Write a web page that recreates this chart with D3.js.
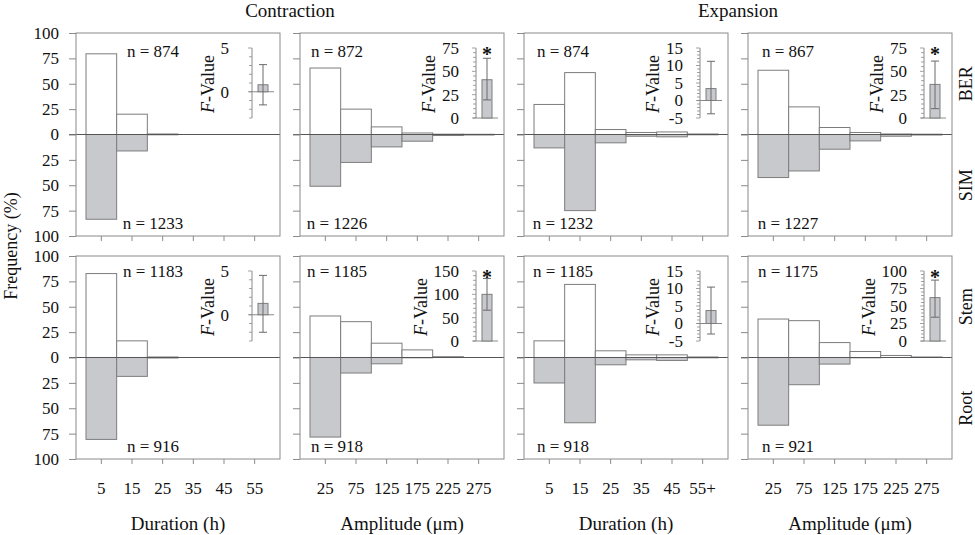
<!DOCTYPE html>
<html><head><meta charset="utf-8">
<script src="https://cdn.jsdelivr.net/npm/d3@7"></script>
<style>
body{margin:0;background:#fff}
svg{display:block}
text{font-family:"Liberation Serif","Times New Roman",serif;fill:#111}
</style>
</head><body>
<svg id="chart" width="975" height="535"></svg>
<script>
// ---------- data ----------
const durationBins = ["5","15","25","35","45","55"];
const durationBinsExp = ["5","15","25","35","45","55+"];
const amplitudeBins = ["25","75","125","175","225","275"];
const freqTicks = [-100,-75,-50,-25,0,25,50,75,100];

const columnTitles = ["Contraction","Expansion"];
const axisTitles = ["Duration (h)","Amplitude (μm)","Duration (h)","Amplitude (μm)"];
const rowUpper = ["BER","Stem"];
const rowLower = ["SIM","Root"];

// frequency (%) — top row: BER (up) vs SIM (down)
const contrDurBER = [79.5, 20, 0.5, 0, 0, 0];
const contrDurSIM = [83.5, 16.2, 0.3, 0, 0, 0];
const contrAmpBER = [65.5, 25, 7.5, 1.5, 0.3, 0.2];
const contrAmpSIM = [51, 27.5, 12.2, 6.6, 1, 0.5];
const expDurBER = [29.6, 61, 4.9, 2, 2.5, 0.5];
const expDurSIM = [13.2, 75, 8.2, 1.7, 2.3, 0.3];
const expAmpBER = [63.3, 27.2, 6.9, 2, 0.5, 0.3];
const expAmpSIM = [42.4, 35.9, 14.5, 6.3, 1.7, 0.5];
// bottom row: Stem (up) vs Root (down)
const contrDurStem = [82.7, 16.4, 0.5, 0, 0, 0];
const contrDurRoot = [80.7, 18.6, 0.5, 0, 0, 0];
const contrAmpStem = [40.9, 35.3, 14.1, 7.5, 0.8, 0];
const contrAmpRoot = [78.4, 15.3, 6.2, 0.3, 0, 0];
const expDurStem = [16.4, 72, 6.6, 2.6, 2.6, 0.5];
const expDurRoot = [25.1, 64.3, 7.2, 2.3, 2.9, 0.3];
const expAmpStem = [37.9, 36.3, 14.7, 5.9, 2, 0.5];
const expAmpRoot = [66.7, 26.8, 6.5, 0.3, 0, 0];

const nBER = [874, 872, 874, 867];
const nSIM = [1233, 1226, 1232, 1227];
const nStem = [1183, 1185, 1185, 1175];
const nRoot = [916, 918, 918, 921];

// F-value insets (panel order: row-major)
const fValue = [0.8, 41, 3.4, 36, 1.3, 100, 3.7, 62];
const fLow   = [-1.5, 19.4, -3.8, 10, -2.0, 66, -3.0, 34];
const fHigh  = [3.1, 64, 11.2, 61, 4.5, 134, 10.4, 87];
const fSignificant = [false, true, false, true, false, true, false, true];
const fDomain = [[-3,5],[0,75],[-5,15],[0,75],[-3,5],[0,150],[-5,15],[0,100]];
const fTickLabels = [[0,5],[0,25,50,75],[-5,0,5,10,15],[0,25,50,75],[0,5],[0,50,100,150],[-5,0,5,10,15],[0,25,50,75,100]];
const fMinorStep = [1,5,1,5,1,10,1,5];

// ---------- assembly ----------
const binsByCol = [durationBins, amplitudeBins, durationBinsExp, amplitudeBins];
const upByRow = [[contrDurBER, contrAmpBER, expDurBER, expAmpBER],[contrDurStem, contrAmpStem, expDurStem, expAmpStem]];
const downByRow = [[contrDurSIM, contrAmpSIM, expDurSIM, expAmpSIM],[contrDurRoot, contrAmpRoot, expDurRoot, expAmpRoot]];
const nUpByRow = [nBER, nStem];
const nDownByRow = [nSIM, nRoot];

// ---------- layout ----------
const svg = d3.select("#chart");
const W = 204, H = 203;
const lefts = [76, 300, 524, 748];
const tops = [33, 256];
const nLabelX = [77, 37, 39, 40];
const grey = "#c8c9cd", frameCol = "#8a8a8a", edgeCol = "#7d7d7d";

for (let r = 0; r < 2; r++) {
  for (let c = 0; c < 4; c++) {
    const idx = r * 4 + c;
    const g = svg.append("g").attr("transform", `translate(${lefts[c]},${tops[r]})`);
    const x = d3.scaleBand().domain(binsByCol[c]).range([10, W - 10]).padding(0);
    const y = d3.scaleLinear().domain([-100, 100]).range([H, 0]);
    const up = upByRow[r][c], down = downByRow[r][c];

    g.selectAll(".up").data(binsByCol[c].map((k, i) => ({k, v: up[i]})).filter(d => d.v > 0))
      .join("rect")
      .attr("x", d => x(d.k)).attr("width", x.bandwidth())
      .attr("y", d => y(d.v)).attr("height", d => y(0) - y(d.v))
      .attr("fill", "#fff").attr("stroke", edgeCol).attr("stroke-width", 1);

    g.selectAll(".down").data(binsByCol[c].map((k, i) => ({k, v: down[i]})).filter(d => d.v > 0))
      .join("rect")
      .attr("x", d => x(d.k)).attr("width", x.bandwidth())
      .attr("y", y(0)).attr("height", d => y(-d.v) - y(0))
      .attr("fill", grey).attr("stroke", edgeCol).attr("stroke-width", 1);

    // zero line
    g.append("line").attr("x1", -7).attr("x2", W).attr("y1", y(0)).attr("y2", y(0))
      .attr("stroke", "#555").attr("stroke-width", 1);

    // frame
    g.append("rect").attr("width", W).attr("height", H)
      .attr("fill", "none").attr("stroke", frameCol).attr("stroke-width", 1);

    // y axis
    const ya = g.append("g").call(d3.axisLeft(y).tickValues(freqTicks).tickSize(7).tickPadding(10)
      .tickFormat(c === 0 ? (d => Math.abs(d)) : () => ""));
    ya.select(".domain").remove();
    ya.selectAll("line").attr("stroke", frameCol);
    ya.selectAll("text").attr("font-size", 17).attr("fill", "#111")
      .attr("font-family", '"Liberation Serif",serif');

    // x axis
    const xa = g.append("g").attr("transform", `translate(0,${H})`)
      .call(d3.axisBottom(x).tickSize(5).tickPadding(18).tickFormat(r === 1 ? (d => d) : () => ""));
    xa.select(".domain").remove();
    xa.selectAll("line").attr("stroke", frameCol);
    xa.selectAll("text").attr("font-size", 17).attr("fill", "#111")
      .attr("font-family", '"Liberation Serif",serif');

    // n labels
    g.append("text").attr("x", nLabelX[c]).attr("y", r === 0 ? 23.5 : 21)
      .attr("text-anchor", "middle").attr("font-size", 17).text(`n = ${nUpByRow[r][c]}`);
    g.append("text").attr("x", nLabelX[c]).attr("y", H - 7.5)
      .attr("text-anchor", "middle").attr("font-size", 17).text(`n = ${nDownByRow[r][c]}`);

    // ---------- inset ----------
    const ax = W - 28;
    const dom = fDomain[idx];
    const fy = d3.scaleLinear().domain(dom).range([85, 15]);
    const ins = g.append("g");
    ins.append("line").attr("x1", ax).attr("x2", ax).attr("y1", fy(dom[0])).attr("y2", fy(dom[1]))
      .attr("stroke", frameCol);
    const minor = d3.range(dom[0], dom[1] + fMinorStep[idx] / 2, fMinorStep[idx]);
    ins.selectAll(".mt").data(minor).join("line")
      .attr("x1", d => fTickLabels[idx].includes(d) ? ax - 4 : ax - 3).attr("x2", ax)
      .attr("y1", d => fy(d)).attr("y2", d => fy(d))
      .attr("stroke", frameCol).attr("stroke-width", 0.8);
    const single = fTickLabels[idx].every(d => String(d).length === 1);
    const lab = ins.append("g");
    lab.selectAll("text").data(fTickLabels[idx]).join("text")
      .attr("x", ax - (single ? 23 : 17)).attr("y", d => fy(d)).attr("dy", "0.35em")
      .attr("text-anchor", "end").attr("font-size", 17).text(d => d);
    // baseline
    ins.append("line").attr("x1", ax - 3).attr("x2", ax + 22).attr("y1", fy(0)).attr("y2", fy(0))
      .attr("stroke", frameCol);
    // bar
    const fv = fValue[idx];
    ins.append("rect").attr("x", ax + 6).attr("width", 10)
      .attr("y", fy(Math.max(fv, 0))).attr("height", Math.abs(fy(0) - fy(fv)))
      .attr("fill", grey).attr("stroke", edgeCol);
    // error bar
    const ex = ax + 11;
    ins.append("line").attr("x1", ex).attr("x2", ex).attr("y1", fy(fLow[idx])).attr("y2", fy(fHigh[idx]))
      .attr("stroke", "#6a6a6a");
    [fLow[idx], fHigh[idx]].forEach(v => {
      ins.append("line").attr("x1", ex - 4).attr("x2", ex + 4).attr("y1", fy(v)).attr("y2", fy(v))
        .attr("stroke", "#6a6a6a");
    });
    if (fSignificant[idx]) {
      ins.append("text").attr("x", ex).attr("y", fy(dom[1]) + 13).attr("text-anchor", "middle")
        .attr("font-size", 20).attr("font-weight", "bold").text("*");
    }
    // F-Value label
    const bb = lab.node().getBBox();
    const lx = bb.x - 13;
    const ly = 51;
    const ft = ins.append("text").attr("transform", `translate(${lx},${ly}) rotate(-90)`)
      .attr("text-anchor", "middle").attr("dy", "0.35em").attr("font-size", 18);
    ft.append("tspan").attr("font-style", "italic").text("F");
    ft.append("tspan").text("-Value");
  }
}

// column titles
[0, 1].forEach(i => {
  const cx = (lefts[i * 2] + lefts[i * 2 + 1] + W) / 2;
  svg.append("text").attr("x", cx).attr("y", 17).attr("text-anchor", "middle")
    .attr("font-size", 19).text(columnTitles[i]);
});

// x axis titles
axisTitles.forEach((t, c) => {
  svg.append("text").attr("x", lefts[c] + W / 2).attr("y", 530).attr("text-anchor", "middle")
    .attr("font-size", 19).text(t);
});

// row labels
[0, 1].forEach(r => {
  const y = d3.scaleLinear().domain([-100, 100]).range([tops[r] + H, tops[r]]);
  svg.append("text").attr("transform", `translate(966,${y(50)}) rotate(-90)`)
    .attr("text-anchor", "middle").attr("dy", "0.35em").attr("font-size", 18).text(rowUpper[r]);
  svg.append("text").attr("transform", `translate(966,${y(-50)}) rotate(-90)`)
    .attr("text-anchor", "middle").attr("dy", "0.35em").attr("font-size", 18).text(rowLower[r]);
});

// y axis title
svg.append("text").attr("transform", `translate(11,${(tops[0] + tops[1] + H) / 2}) rotate(-90)`)
  .attr("text-anchor", "middle").attr("dy", "0.35em").attr("font-size", 18).text("Frequency (%)");
</script>
</body></html>
